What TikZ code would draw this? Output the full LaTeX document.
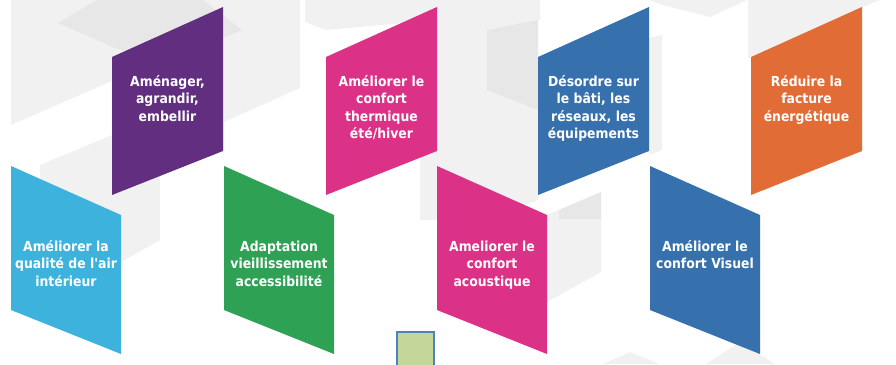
\documentclass[tikz,border=0pt]{standalone}
\usepackage{fontspec}
\newfontfamily\lblfont{DejaVu Sans}[FakeStretch=0.9]
\definecolor{purpleC}{RGB}{98,46,128}
\definecolor{pinkC}{RGB}{219,49,135}
\definecolor{blueC}{RGB}{54,113,174}
\definecolor{orangeC}{RGB}{226,108,53}
\definecolor{cyanC}{RGB}{61,178,221}
\definecolor{greenC}{RGB}{46,161,84}
\definecolor{bgA}{RGB}{241,241,241}
\definecolor{bgB}{RGB}{231,231,231}
\definecolor{sqFill}{RGB}{196,215,155}
\definecolor{sqDraw}{RGB}{79,129,189}
\newcommand\topblk[2]{\fill[#2] (#1,57) -- ++(111,-50) -- ++(0,144) -- ++(-111,44) -- cycle;}
\newcommand\botblk[2]{\fill[#2] (#1,166) -- ++(110,49) -- ++(0,139) -- ++(-110,-44) -- cycle;}
\newcommand\fl{\rule{0pt}{12pt}}
\tikzset{
  lbl/.style={text=white, font=\lblfont\bfseries\fontsize{13.8}{17.5}\selectfont,
    align=center, anchor=north, inner sep=0pt},
  sqbox/.style={draw=sqDraw, fill=sqFill, line width=1.8pt, minimum width=37pt,
    minimum height=40pt, anchor=north west, inner sep=0pt}
}
\begin{document}
\begin{tikzpicture}[x=1pt,y=-1pt]
\useasboundingbox (0,0) rectangle (896,364);
\clip (0,0) rectangle (896,364);
% background pattern
\fill[bgA] (11,0) -- (112,0) -- (112,81) -- (11,125) -- cycle;
\fill[bgA] (112,0) -- (300,0) -- (300,88) -- (224,122) -- (224,150) -- (112,150) -- cycle;
\fill[bgB] (58,23) -- (97,0) -- (203,0) -- (242,30) -- (168,62) -- (115,48) -- cycle;
\fill[bgA] (40,165) -- (112,135) -- (160,150) -- (160,240) -- (121,262) -- (40,200) -- cycle;
\fill[bgA] (305,0) -- (540,0) -- (540,20) -- (470,30) -- (437,20) -- (326,30) -- (305,22) -- cycle;
\fill[bgA] (437,0) -- (538,0) -- (538,200) -- (437,240) -- cycle;
\fill[bgB] (487,30) -- (538,20) -- (538,110) -- (487,90) -- cycle;
\fill[bgA] (420,150) -- (437,150) -- (437,220) -- (420,220) -- cycle;
\fill[bgA] (547,215) -- (601,192) -- (601,272) -- (547,302) -- cycle;
\fill[bgB] (559,210) -- (601,192) -- (601,219) -- (559,219) -- cycle;
\fill[bgA] (649,38) -- (662,35) -- (662,150) -- (649,155) -- cycle;
\fill[bgA] (649,0) -- (747,0) -- (710,17) -- (662,5) -- cycle;
\fill[bgA] (748,0) -- (880,0) -- (863,7) -- (748,58) -- cycle;
\fill[bgA] (603,364) -- (630,352) -- (660,364) -- cycle;
\fill[bgA] (706,364) -- (740,342) -- (775,364) -- cycle;
% blocks
\topblk{112}{purpleC}
\topblk{326}{pinkC}
\topblk{538}{blueC}
\topblk{751}{orangeC}
\botblk{11}{cyanC}
\botblk{224}{greenC}
\botblk{437}{pinkC}
\botblk{650}{blueC}
% labels
\node[lbl] (t1) at (167.5,74) {\fl Aménager,\\agrandir,\\embellir};
\node[lbl] (t2) at (381.5,74) {\fl Améliorer le\\confort\\thermique\\été/hiver};
\node[lbl] (t3) at (593.5,74) {\fl Désordre sur\\le bâti, les\\réseaux, les\\équipements};
\node[lbl] (t4) at (806.5,74) {\fl Réduire la\\facture\\énergétique};
\node[lbl] (b1) at (66,239) {\fl Améliorer la\\qualité de l'air\\intérieur};
\node[lbl] (b2) at (279,239) {\fl Adaptation\\vieillissement\\accessibilité};
\node[lbl] (b3) at (492,239) {\fl Ameliorer le\\confort\\acoustique};
\node[lbl] (b4) at (705,239) {\fl Améliorer le\\confort Visuel};
% small square
\node[sqbox] (sq) at (396,331) {};
\end{tikzpicture}
\end{document}
